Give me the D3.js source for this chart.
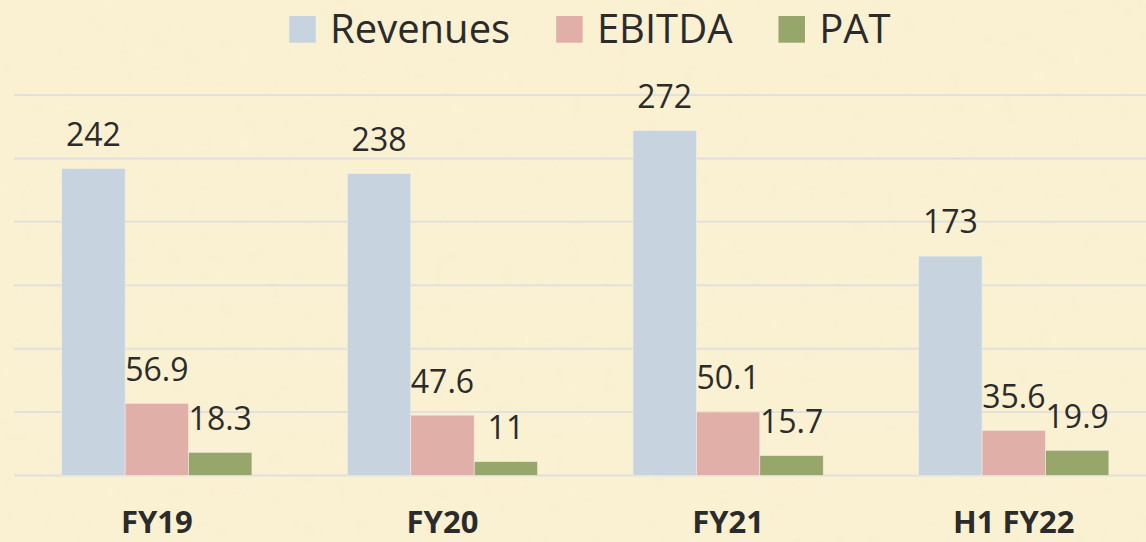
<!DOCTYPE html>
<html>
<head>
<meta charset="utf-8">
<script src="https://cdn.jsdelivr.net/npm/d3@7"></script>
<style>
  body { margin: 0; background: #f9f1d0; }
  svg { display: block; }
  text { font-family: "Open Sans", sans-serif; fill: #2b2b2b; }
</style>
</head>
<body>
<svg id="drawing_region" width="1146" height="542"></svg>
<script>
// chart data
const categories = ["FY19", "FY20", "FY21", "H1 FY22"];
const seriesNames = ["Revenues", "EBITDA", "PAT"];
const revenues = [242, 238, 272, 173];
const ebitda = [56.9, 47.6, 50.1, 35.6];
const pat = [18.3, 11, 15.7, 19.9];
const yTicks = [0, 50, 100, 150, 200, 250, 300];

const colors = ["#c7d3df", "#e0afa8", "#97a66a"];
const values = [revenues, ebitda, pat];

const W = 1146, H = 542;
const svg = d3.select('#drawing_region');

// parchment-like background
const defs = svg.append('defs');
const f = defs.append('filter').attr('id', 'paper')
    .attr('x', 0).attr('y', 0).attr('width', '100%').attr('height', '100%');
f.append('feTurbulence').attr('type', 'fractalNoise')
    .attr('baseFrequency', 0.06).attr('numOctaves', 3).attr('seed', 4);
f.append('feColorMatrix').attr('type', 'matrix')
    .attr('values', '0 0 0 0 0.80  0 0 0 0 0.72  0 0 0 0 0.45  0 0 0 0.10 0');
svg.append('rect').attr('width', W).attr('height', H).attr('fill', '#faf2d3');
svg.append('rect').attr('width', W).attr('height', H).attr('filter', 'url(#paper)');

const x = d3.scaleBand()
    .domain(categories)
    .range([14, 1156.6])
    .paddingInner(0.334)
    .paddingOuter(0.167);

const xs = d3.scaleBand()
    .domain(seriesNames)
    .range([0, x.bandwidth()]);

const y = d3.scaleLinear()
    .domain([0, 300])
    .range([475.5, 95]);

// gridlines
svg.append('g')
  .selectAll('line')
  .data(yTicks)
  .join('line')
    .attr('x1', 14).attr('x2', W)
    .attr('y1', d => y(d)).attr('y2', d => y(d))
    .attr('stroke', '#e2e0da')
    .attr('stroke-width', 2);

// bars
const rows = [];
seriesNames.forEach((s, si) => {
    categories.forEach((c, ci) => {
        rows.push({ cat: c, series: s, si: si, value: values[si][ci] });
    });
});

svg.append('g')
  .selectAll('rect')
  .data(rows)
  .join('rect')
    .attr('x', d => x(d.cat) + xs(d.series))
    .attr('y', d => y(d.value))
    .attr('width', xs.bandwidth())
    .attr('height', d => y(0) - y(d.value))
    .attr('fill', d => colors[d.si])
    .attr('stroke', '#f2efe6')
    .attr('stroke-width', 0.6);

// value labels
svg.append('g')
  .selectAll('text')
  .data(rows)
  .join('text')
    .attr('x', d => x(d.cat) + xs(d.series) + xs.bandwidth() / 2)
    .attr('y', d => y(d.value) - 22.6)
    .attr('text-anchor', 'middle')
    .style('font-size', '32px')
    .text(d => d.value);

// category labels (kept just inside the bottom edge)
svg.append('g')
  .selectAll('text')
  .data(categories)
  .join('text')
    .attr('x', d => x(d) + x.bandwidth() / 2)
    .attr('y', 533)
    .attr('text-anchor', 'middle')
    .style('font-size', '31px')
    .style('font-weight', 'bold')
    .text(d => d);

// legend
const legend = svg.append('g');
let lx = 289.3;
seriesNames.forEach((s, i) => {
    legend.append('rect')
        .attr('x', lx).attr('y', 16)
        .attr('width', 26.5).attr('height', 26.7)
        .attr('fill', colors[i]);
    const t = legend.append('text')
        .attr('x', lx + 40.7)
        .attr('y', 42.7)
        .style('font-size', '40px')
        .text(s);
    lx += 40.7 + t.node().getComputedTextLength() + 46;
});
</script>
</body>
</html>
